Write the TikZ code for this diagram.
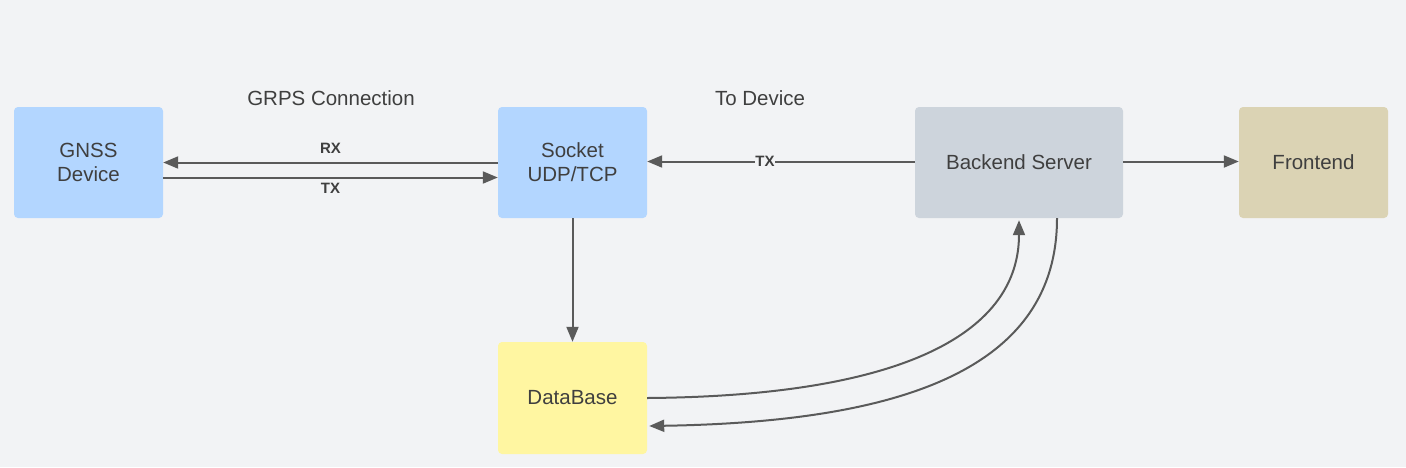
\documentclass[tikz,border=0pt]{standalone}
\usepackage{fontspec}
\setmainfont{Liberation Sans}
\usetikzlibrary{arrows.meta,calc}
\definecolor{bg}{HTML}{F2F3F5}
\definecolor{bluebox}{HTML}{B3D6FF}
\definecolor{graybox}{HTML}{CDD4DC}
\definecolor{tanbox}{HTML}{DBD3B4}
\definecolor{yellowbox}{HTML}{FFF6A1}
\definecolor{linec}{HTML}{5A5A5A}
\definecolor{txt}{HTML}{3F3F3F}
\tikzset{
  box/.style={rectangle, rounded corners=4pt, draw=none, minimum width=149pt, minimum height=111pt, inner sep=0pt, align=center, text=txt, font=\fontsize{20.5}{24}\selectfont},
  conn/.style={draw=linec, line width=2pt, -{Triangle[length=15pt,width=12pt]}},
  lbl/.style={text=txt, font=\fontsize{15}{18}\selectfont\bfseries, inner sep=1pt},
  title/.style={text=txt, font=\fontsize{20.5}{24}\selectfont}
}
\begin{document}
\begin{tikzpicture}[x=1pt,y=-1pt]
\fill[bg] (0,0) rectangle (1406,467);
\useasboundingbox (0,0) rectangle (1406,467);
\node[box, fill=bluebox] (gnss) at (88.5,162.5) {GNSS\\Device};
\node[box, fill=bluebox] (sock) at (572.5,162.5) {Socket\\UDP/TCP};
\node[box, fill=graybox, minimum width=208pt] (back) at (1019,162.5) {Backend Server};
\node[box, fill=tanbox] (front) at (1313.5,162.5) {Frontend};
\node[box, fill=yellowbox, minimum height=112pt] (db) at (572.5,398) {DataBase};
\node[title] (t1) at (331,98) {GRPS Connection};
\node[title] (t2) at (760,98) {To Device};
\draw[conn] (sock.west |- gnss.center) -- node[lbl, above=7pt] (rx) {RX} (gnss.east |- gnss.center);
\draw[conn] ($(gnss.east)+(0,15)$) -- node[lbl, below=4pt] (tx1) {TX} ($(sock.west)+(0,15)$);
\draw[conn] ($(back.west)+(0,-1)$) -- node[lbl, fill=bg, pos=0.56, inner sep=0pt] (tx2) {TX} ($(sock.east)+(0,-1)$);
\draw[conn] ($(back.east)+(0,-1)$) -- ($(front.west)+(0,-1)$);
\draw[conn] (sock.south) -- (db.north);
\draw[conn] (db.east) .. controls (910,396) and (1019,330) .. ($(back.south)+(0,2)$);
\draw[conn] ($(back.south)+(38,0)$) .. controls (1057,370) and (900,422) .. ($(db.east)+(2,28)$);
\end{tikzpicture}
\end{document}
